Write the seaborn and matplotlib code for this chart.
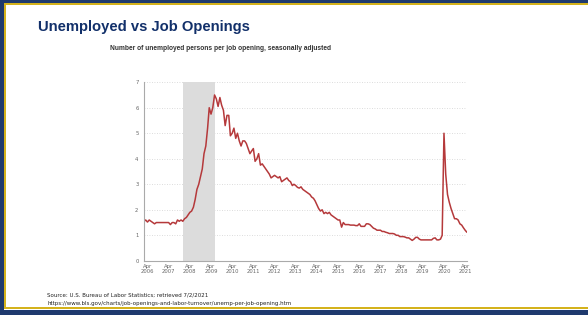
import pandas as pd
import seaborn as sns
import matplotlib.pyplot as plt
from matplotlib.patches import Rectangle

# unemployed persons per job opening, monthly (Feb 2006 - May 2021)
y2006 = [1.55, 1.6, 1.52, 1.6, 1.55, 1.5, 1.45, 1.5, 1.5, 1.5, 1.5]
y2007 = [1.5, 1.5, 1.5, 1.5, 1.42, 1.5, 1.5, 1.45, 1.6, 1.55, 1.6, 1.55]
y2008 = [1.65, 1.7, 1.8, 1.9, 1.95, 2.1, 2.4, 2.8, 3.0, 3.3, 3.6, 4.2]
y2009 = [4.5, 5.2, 6.0, 5.75, 6.0, 6.5, 6.35, 6.05, 6.4, 6.1, 5.9, 5.3]
y2010 = [5.7, 5.7, 4.9, 5.0, 5.2, 4.8, 5.0, 4.7, 4.5, 4.7, 4.7, 4.6]
y2011 = [4.4, 4.2, 4.3, 4.4, 3.9, 4.0, 4.2, 3.75, 3.8, 3.7, 3.6, 3.5]
y2012 = [3.4, 3.25, 3.3, 3.35, 3.3, 3.25, 3.3, 3.1, 3.15, 3.2, 3.25, 3.15]
y2013 = [3.1, 2.95, 3.0, 2.95, 2.88, 2.85, 2.9, 2.8, 2.75, 2.7, 2.65, 2.6]
y2014 = [2.5, 2.45, 2.35, 2.2, 2.05, 1.95, 2.0, 1.85, 1.9, 1.85, 1.9, 1.8]
y2015 = [1.75, 1.7, 1.65, 1.6, 1.6, 1.32, 1.5, 1.42, 1.42, 1.42, 1.4, 1.4]
y2016 = [1.4, 1.38, 1.38, 1.45, 1.35, 1.35, 1.35, 1.45, 1.45, 1.42, 1.35, 1.28]
y2017 = [1.25, 1.2, 1.2, 1.2, 1.15, 1.15, 1.12, 1.1, 1.07, 1.07, 1.07, 1.05]
y2018 = [1.0, 1.0, 0.95, 0.95, 0.95, 0.93, 0.9, 0.9, 0.85, 0.8, 0.85, 0.92]
y2019 = [0.92, 0.85, 0.82, 0.82, 0.82, 0.82, 0.82, 0.82, 0.82, 0.88, 0.9, 0.82]
y2020 = [0.82, 0.85, 1.0, 5.0, 3.4, 2.6, 2.3, 2.05, 1.85, 1.65, 1.65, 1.6]
y2021 = [1.45, 1.4, 1.3, 1.2, 1.12]

values = (y2006 + y2007 + y2008 + y2009 + y2010 + y2011 + y2012 + y2013 + y2014
          + y2015 + y2016 + y2017 + y2018 + y2019 + y2020 + y2021)
dates = pd.date_range('2006-02-01', periods=len(values), freq='MS')
df = pd.DataFrame({'date': dates, 'ratio': values})

tick_years = list(range(2006, 2022))
recession = ('2007-12-01', '2009-06-01')

navy = '#1f3a6e'
gold = '#d4b21c'
W, H = 588, 315

sns.set_style('white')
fig = plt.figure(figsize=(5.88, 3.15), dpi=100)


def band(x0, y0, w, h, color):
    # rectangle given in pixels from the top-left corner
    fig.patches.append(Rectangle((x0 / W, 1 - (y0 + h) / H), w / W, h / H,
                                 transform=fig.transFigure, color=color, lw=0))


# slide frame: navy on top, left and bottom, gold line inside
band(0, 0, W, 2.5, navy)
band(0, 2.5, W, 2, gold)
band(0, 0, 3.5, H, navy)
band(3.5, 2.5, 2, 306, gold)
band(3.5, 306.5, W, 2.5, gold)
band(0, 309.5, W, 6, navy)

fig.text(0.064, 0.915, 'Unemployed vs Job Openings', fontsize=10.6, fontweight='bold',
         color='#12306a', va='center', family='Liberation Sans')
fig.text(0.187, 0.845, 'Number of unemployed persons per job opening, seasonally adjusted',
         fontsize=4.75, fontweight='bold', color='#333333', va='center', family='Liberation Sans')

ax = fig.add_axes([0.245, 0.172, 0.549, 0.567])
ax.axvspan(pd.Timestamp(recession[0]), pd.Timestamp(recession[1]), color='#dcdcdc', lw=0)
sns.lineplot(data=df, x='date', y='ratio', ax=ax, color='#b5393b', lw=1.1)

ax.set_ylim(0, 7)
ax.set_xlim(dates[0], dates[-1])
ax.set_yticks(range(0, 8))
ax.set_xticks([pd.Timestamp(f'{y}-04-01') for y in tick_years])
ax.set_xticklabels([f'Apr\n{y}' for y in tick_years])
ax.tick_params(axis='both', labelsize=3.8, colors='#666666', length=2, width=0.5, pad=2)
ax.tick_params(axis='x', length=0)
ax.set_xlabel('')
ax.set_ylabel('')
for y in range(1, 8):
    ax.axhline(y, color='#d0d0d0', lw=0.6, ls=(0, (1, 2)), zorder=0)
for s in ['top', 'right']:
    ax.spines[s].set_visible(False)
for s in ['left', 'bottom']:
    ax.spines[s].set_color('#aaaaaa')
    ax.spines[s].set_linewidth(0.8)

fig.text(0.08, 0.062, 'Source: U.S. Bureau of Labor Statistics; retrieved 7/2/2021',
         fontsize=4.0, color='#222222', va='center')
fig.text(0.08, 0.036, 'https://www.bls.gov/charts/job-openings-and-labor-turnover/unemp-per-job-opening.htm',
         fontsize=4.0, color='#222222', va='center')

fig.savefig('out.png', dpi=100)
